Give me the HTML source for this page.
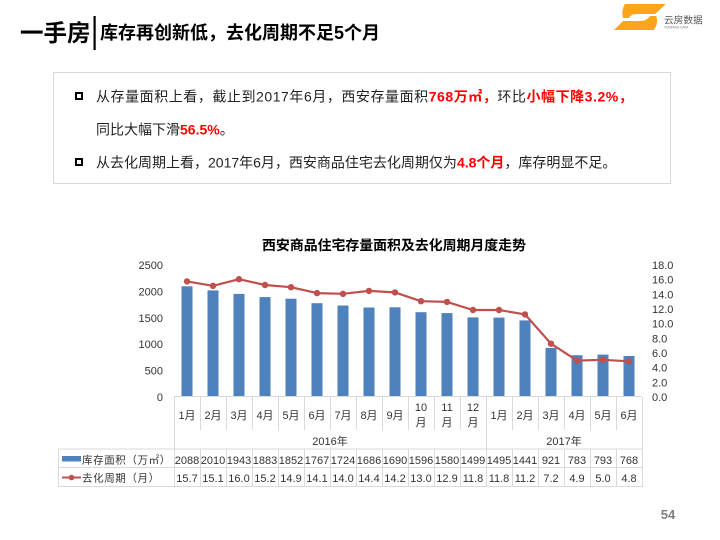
<!DOCTYPE html>
<html><head><meta charset="utf-8"><style>
html,body{margin:0;padding:0;background:#fff;}
svg{display:block;}
text{font-family:"Liberation Sans","Noto Sans CJK SC",sans-serif;}
</style></head><body>
<svg width="720" height="540" viewBox="0 0 720 540" xmlns="http://www.w3.org/2000/svg">
<!-- Title -->
<text x="20" y="41" font-size="23.5" font-weight="bold" fill="#000">一手房</text>
<rect x="93.5" y="16" width="2.2" height="34" fill="#000"/>
<text x="100" y="39" font-size="18" font-weight="bold" fill="#000">库存再创新低，去化周期不足5个月</text>
<!-- Logo -->
<path d="M625,4 L666,4 L655,14 L637,14 Q631,14 629,18 L623,18 Q621,10 625,4 Z" fill="#F9A61A"/>
<path d="M614,30 L654,30 Q659,22 656,16 L650,16 Q647,21 640,21 L623,21 Z" fill="#F9A61A"/>
<text x="664" y="23.5" font-size="9.7" fill="#555">云房数据</text>
<text x="664" y="28.5" font-size="3.2" fill="#777">YUNFANG DATA</text>
<!-- Text box -->
<rect x="53.5" y="72.5" width="617" height="111" fill="#fff" stroke="#d9d9d9" stroke-width="1"/>
<rect x="76" y="93" width="6" height="6" fill="none" stroke="#000" stroke-width="2"/>
<rect x="76" y="159" width="6" height="6" fill="none" stroke="#000" stroke-width="2"/>
<text x="96" y="101.3" font-size="14" fill="#222" letter-spacing="0.55">从存量面积上看，截止到2017年6月，西安存量面积<tspan fill="#ff0000" font-weight="bold">768万㎡，</tspan>环比<tspan fill="#ff0000" font-weight="bold">小幅下降3.2%，</tspan></text>
<text x="96" y="134.3" font-size="14" fill="#222">同比大幅下滑<tspan fill="#ff0000" font-weight="bold">56.5%</tspan>。</text>
<text x="96" y="167.3" font-size="14" fill="#222">从去化周期上看，2017年6月，西安商品住宅去化周期仅为<tspan fill="#ff0000" font-weight="bold">4.8个月</tspan>，库存明显不足。</text>
<!-- Chart title -->
<text x="394" y="250" font-size="13.9" font-weight="bold" fill="#000" text-anchor="middle">西安商品住宅存量面积及去化周期月度走势</text>
<!-- Left axis labels -->
<g font-size="11" fill="#333" text-anchor="end">
<text x="163" y="269">2500</text>
<text x="163" y="295.4">2000</text>
<text x="163" y="321.8">1500</text>
<text x="163" y="348.2">1000</text>
<text x="163" y="374.6">500</text>
<text x="163" y="401">0</text>
</g>
<!-- Right axis labels -->
<g font-size="11" fill="#333">
<text x="652" y="269">18.0</text>
<text x="652" y="283.7">16.0</text>
<text x="652" y="298.3">14.0</text>
<text x="652" y="313">12.0</text>
<text x="652" y="327.7">10.0</text>
<text x="652" y="342.3">8.0</text>
<text x="652" y="357">6.0</text>
<text x="652" y="371.7">4.0</text>
<text x="652" y="386.3">2.0</text>
<text x="652" y="401">0.0</text>
</g>
<!-- Bars -->
<g fill="#4F81BD">
<rect x="181.5" y="286.3" width="11" height="110.2"/>
<rect x="207.5" y="290.4" width="11" height="106.1"/>
<rect x="233.5" y="293.9" width="11" height="102.6"/>
<rect x="259.5" y="297.1" width="11" height="99.4"/>
<rect x="285.5" y="298.7" width="11" height="97.8"/>
<rect x="311.5" y="303.2" width="11" height="93.3"/>
<rect x="337.5" y="305.5" width="11" height="91"/>
<rect x="363.5" y="307.5" width="11" height="89"/>
<rect x="389.5" y="307.3" width="11" height="89.2"/>
<rect x="415.5" y="312.2" width="11" height="84.3"/>
<rect x="441.5" y="313.1" width="11" height="83.4"/>
<rect x="467.5" y="317.4" width="11" height="79.1"/>
<rect x="493.5" y="317.6" width="11" height="78.9"/>
<rect x="519.5" y="320.4" width="11" height="76.1"/>
<rect x="545.5" y="347.9" width="11" height="48.6"/>
<rect x="571.5" y="355.2" width="11" height="41.3"/>
<rect x="597.5" y="354.6" width="11" height="41.9"/>
<rect x="623.5" y="356" width="11" height="40.5"/>
</g>
<!-- Line -->
<polyline fill="none" stroke="#C0504D" stroke-width="2.2" stroke-linejoin="round" points="187,281.4 213,285.8 239,279.2 265,285 291,287.2 317,293.1 343,293.8 369,290.9 395,292.4 421,301.2 447,301.9 473,310 499,310 525,314.4 551,343.7 577,360.6 603,359.8 629,361.3"/>
<g fill="#C0504D">
<circle cx="187" cy="281.4" r="3.2"/><circle cx="213" cy="285.8" r="3.2"/><circle cx="239" cy="279.2" r="3.2"/>
<circle cx="265" cy="285" r="3.2"/><circle cx="291" cy="287.2" r="3.2"/><circle cx="317" cy="293.1" r="3.2"/>
<circle cx="343" cy="293.8" r="3.2"/><circle cx="369" cy="290.9" r="3.2"/><circle cx="395" cy="292.4" r="3.2"/>
<circle cx="421" cy="301.2" r="3.2"/><circle cx="447" cy="301.9" r="3.2"/><circle cx="473" cy="310" r="3.2"/>
<circle cx="499" cy="310" r="3.2"/><circle cx="525" cy="314.4" r="3.2"/><circle cx="551" cy="343.7" r="3.2"/>
<circle cx="577" cy="360.6" r="3.2"/><circle cx="603" cy="359.8" r="3.2"/><circle cx="629" cy="361.3" r="3.2"/>
</g>
<!-- Table lines -->
<g stroke="#d9d9d9" stroke-width="1" fill="none">
<line x1="174" y1="396.5" x2="642" y2="396.5"/>
<line x1="58" y1="449" x2="642" y2="449"/>
<line x1="58" y1="467.5" x2="642" y2="467.5"/>
<line x1="58" y1="486.5" x2="642" y2="486.5"/>
<line x1="58.5" y1="449" x2="58.5" y2="487"/>
<line x1="174.5" y1="397" x2="174.5" y2="487"/>
<line x1="486.5" y1="397" x2="486.5" y2="487"/>
<line x1="642.5" y1="397" x2="642.5" y2="487"/>
<path d="M200.5,397V430M226.5,397V430M252.5,397V430M278.5,397V430M304.5,397V430M330.5,397V430M356.5,397V430M382.5,397V430M408.5,397V430M434.5,397V430M460.5,397V430M512.5,397V430M538.5,397V430M564.5,397V430M590.5,397V430M616.5,397V430"/>
<path d="M200.5,449V487M226.5,449V487M252.5,449V487M278.5,449V487M304.5,449V487M330.5,449V487M356.5,449V487M382.5,449V487M408.5,449V487M434.5,449V487M460.5,449V487M512.5,449V487M538.5,449V487M564.5,449V487M590.5,449V487M616.5,449V487"/>
</g>
<!-- Month labels -->
<g font-size="11" fill="#333" text-anchor="middle">
<text x="187" y="419">1月</text><text x="213" y="419">2月</text><text x="239" y="419">3月</text>
<text x="265" y="419">4月</text><text x="291" y="419">5月</text><text x="317" y="419">6月</text>
<text x="343" y="419">7月</text><text x="369" y="419">8月</text><text x="395" y="419">9月</text>
<text x="421" y="411">10</text><text x="421" y="426">月</text>
<text x="447" y="411">11</text><text x="447" y="426">月</text>
<text x="473" y="411">12</text><text x="473" y="426">月</text>
<text x="499" y="419">1月</text><text x="525" y="419">2月</text><text x="551" y="419">3月</text>
<text x="577" y="419">4月</text><text x="603" y="419">5月</text><text x="629" y="419">6月</text>
<text x="330" y="445">2016年</text>
<text x="564" y="445">2017年</text>
</g>
<!-- Legend -->
<rect x="62" y="456" width="19" height="5.5" fill="#4F81BD"/>
<line x1="62" y1="477.5" x2="81" y2="477.5" stroke="#C0504D" stroke-width="2"/>
<circle cx="71.5" cy="477.5" r="2.8" fill="#C0504D"/>
<text x="82" y="463.5" font-size="10.5" fill="#333" letter-spacing="0.6">库存面积（万㎡）</text>
<text x="82" y="481.5" font-size="10.5" fill="#333" letter-spacing="0.6">去化周期（月）</text>
<!-- Data rows -->
<g font-size="11" fill="#333" text-anchor="middle">
<text x="187" y="464">2088</text><text x="213" y="464">2010</text><text x="239" y="464">1943</text>
<text x="265" y="464">1883</text><text x="291" y="464">1852</text><text x="317" y="464">1767</text>
<text x="343" y="464">1724</text><text x="369" y="464">1686</text><text x="395" y="464">1690</text>
<text x="421" y="464">1596</text><text x="447" y="464">1580</text><text x="473" y="464">1499</text>
<text x="499" y="464">1495</text><text x="525" y="464">1441</text><text x="551" y="464">921</text>
<text x="577" y="464">783</text><text x="603" y="464">793</text><text x="629" y="464">768</text>
<text x="187" y="482">15.7</text><text x="213" y="482">15.1</text><text x="239" y="482">16.0</text>
<text x="265" y="482">15.2</text><text x="291" y="482">14.9</text><text x="317" y="482">14.1</text>
<text x="343" y="482">14.0</text><text x="369" y="482">14.4</text><text x="395" y="482">14.2</text>
<text x="421" y="482">13.0</text><text x="447" y="482">12.9</text><text x="473" y="482">11.8</text>
<text x="499" y="482">11.8</text><text x="525" y="482">11.2</text><text x="551" y="482">7.2</text>
<text x="577" y="482">4.9</text><text x="603" y="482">5.0</text><text x="629" y="482">4.8</text>
</g>
<!-- Page number -->
<text x="668" y="519" font-size="13" font-weight="bold" fill="#7f7f7f" text-anchor="middle">54</text>
</svg>
</body></html>
